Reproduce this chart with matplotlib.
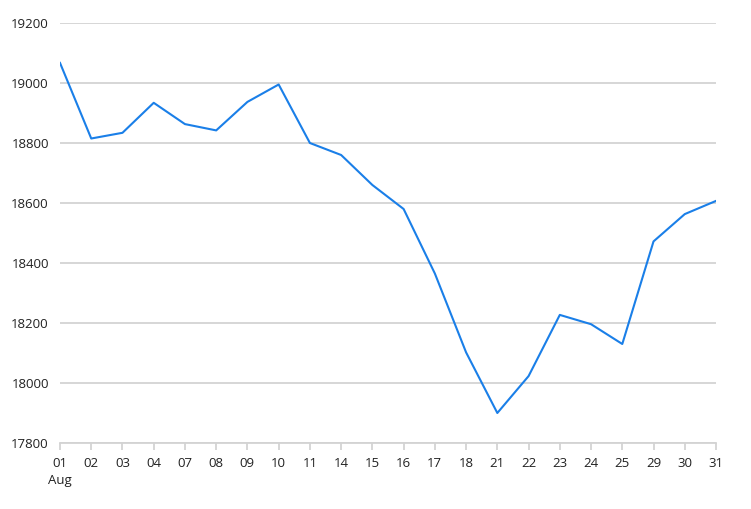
import matplotlib.pyplot as plt

days = ['01', '02', '03', '04', '07', '08', '09', '10', '11', '14', '15',
        '16', '17', '18', '21', '22', '23', '24', '25', '29', '30', '31']
values = [19067, 18815, 18834, 18934, 18863, 18842, 18937, 18995, 18800, 18760, 18660,
          18580, 18365, 18102, 17900, 18023, 18227, 18196, 18130, 18472, 18563, 18607]

plt.rcParams['font.family'] = ['Open Sans', 'DejaVu Sans']

fig = plt.figure(figsize=(7.51, 5.09), dpi=100)
ax = fig.add_axes([60 / 751, 1 - 443 / 509, 656 / 751, 420 / 509])

x = list(range(len(days)))
ax.plot(x, values, color='#1a7fe8', lw=1.5, zorder=3)

ax.set_xlim(0, len(days) - 1)
ax.set_ylim(17800, 19200)
ax.set_yticks(range(17800, 19201, 200))
ax.grid(axis='y', color='#d3d3d3', lw=1.3)
ax.set_axisbelow(True)

labels = list(days)
labels[0] = '01\nAug'
ax.set_xticks(x)
ax.set_xticklabels(labels, fontsize=9.5, color='#222222', linespacing=1.4)
ax.tick_params(axis='y', length=0, labelsize=9.5, labelcolor='#222222', pad=8)
ax.tick_params(axis='x', length=5, color='#d3d3d3', width=1.3, pad=5)

for s in ['top', 'right', 'left']:
    ax.spines[s].set_visible(False)
ax.spines['bottom'].set_color('#d3d3d3')
ax.spines['bottom'].set_linewidth(1.3)

fig.savefig('out.png', dpi=100)
